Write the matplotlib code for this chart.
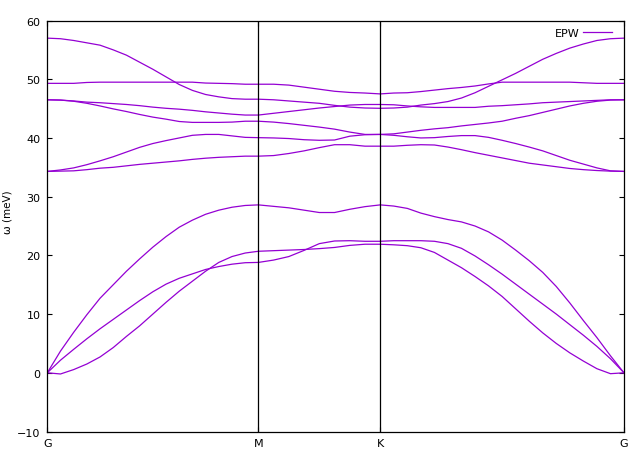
import matplotlib
matplotlib.use("Agg")
import matplotlib.pyplot as plt

# path coordinate along G-M-K-G (hexagonal BZ, G-M = 1/sqrt3, M-K = 1/3, K-G = 2/3)
q = [0.0000, 0.0361, 0.0722, 0.1083, 0.1443, 0.1804, 0.2165, 0.2526, 0.2887,
     0.3248, 0.3609, 0.3969, 0.4330, 0.4691, 0.5052, 0.5413, 0.5774,
     0.6190, 0.6607, 0.7024, 0.7440, 0.7857, 0.8274, 0.8690, 0.9107,
     0.9477, 0.9848, 1.0218, 1.0589, 1.0959, 1.1329, 1.1700, 1.2070, 1.2441,
     1.2811, 1.3181, 1.3552, 1.3922, 1.4292, 1.4663, 1.5033, 1.5404, 1.5774]

sym_pos = [0.0, 0.5774, 0.9107, 1.5774]
sym_lab = ["G", "M", "K", "G"]

# phonon branches (meV)
ta1 = [0, -0.2, 0.55, 1.5, 2.7, 4.3, 6.2, 8.0, 10.0, 12.0, 13.9, 15.6, 17.3, 18.8, 19.8, 20.4, 20.7,
       20.8, 20.9, 21.0, 21.15, 21.35, 21.7, 21.9, 21.9,
       21.8, 21.65, 21.3, 20.5, 19.2, 17.9, 16.4, 14.8, 13.0, 10.9, 8.8, 6.8, 5.0, 3.4, 2.0, 0.7, -0.15, 0]
ta2 = [0, 2.15, 4.0, 5.8, 7.5, 9.1, 10.7, 12.3, 13.8, 15.1, 16.1, 16.85, 17.6, 18.1, 18.5, 18.75, 18.8,
       19.2, 19.8, 20.85, 22.0, 22.45, 22.5, 22.4, 22.4,
       22.5, 22.5, 22.5, 22.4, 22.0, 21.2, 19.9, 18.4, 16.8, 15.1, 13.4, 11.7, 10.0, 8.2, 6.4, 4.5, 2.4, 0]
la = [0, 3.7, 6.9, 9.9, 12.7, 15.0, 17.3, 19.4, 21.4, 23.2, 24.8, 26.0, 27.0, 27.7, 28.2, 28.5, 28.6,
      28.35, 28.1, 27.7, 27.3, 27.3, 27.85, 28.3, 28.6,
      28.4, 28.0, 27.2, 26.6, 26.1, 25.7, 25.0, 24.0, 22.6, 20.9, 19.1, 17.1, 14.7, 11.9, 8.9, 6.0, 2.9, 0]
op1 = [57.0, 56.9, 56.6, 56.2, 55.8, 55.0, 54.1, 52.9, 51.7, 50.4, 49.1, 48.1, 47.4, 47.0, 46.7, 46.6, 46.6,
       46.5, 46.3, 46.1, 45.9, 45.55, 45.25, 45.1, 45.05,
       45.1, 45.25, 45.6, 45.85, 46.2, 46.8, 47.7, 48.8, 49.9, 51.0, 52.2, 53.4, 54.4, 55.3, 56.0, 56.6, 56.9, 57.0]
op2 = [49.3, 49.3, 49.3, 49.45, 49.5, 49.5, 49.5, 49.5, 49.5, 49.5, 49.5, 49.5, 49.35, 49.3, 49.25, 49.15, 49.15,
       49.15, 49.0, 48.65, 48.3, 47.95, 47.75, 47.65, 47.5,
       47.65, 47.7, 47.9, 48.15, 48.4, 48.6, 48.85, 49.2, 49.5, 49.5, 49.5, 49.5, 49.5, 49.5, 49.4, 49.3, 49.3, 49.3]
op3 = [46.5, 46.45, 46.3, 46.1, 46.0, 45.85, 45.7, 45.5, 45.25, 45.05, 44.9, 44.7, 44.45, 44.25, 44.05, 43.9, 43.9,
       44.2, 44.5, 44.8, 45.1, 45.35, 45.6, 45.7, 45.7,
       45.65, 45.45, 45.3, 45.2, 45.2, 45.2, 45.2, 45.4, 45.5, 45.65, 45.8, 46.0, 46.1, 46.2, 46.3, 46.4, 46.5, 46.5]
op4 = [46.5, 46.45, 46.25, 45.9, 45.45, 44.95, 44.5, 44.0, 43.55, 43.2, 42.8, 42.65, 42.65, 42.65, 42.7, 42.85, 42.85,
       42.7, 42.45, 42.15, 41.85, 41.5, 41.0, 40.6, 40.6,
       40.7, 41.0, 41.3, 41.55, 41.75, 42.05, 42.3, 42.55, 42.85, 43.35, 43.8, 44.35, 44.9, 45.45, 45.9, 46.25, 46.45, 46.5]
op5 = [34.3, 34.55, 34.9, 35.45, 36.1, 36.8, 37.6, 38.4, 39.05, 39.55, 40.0, 40.45, 40.6, 40.6, 40.35, 40.1, 40.05,
       40.0, 39.9, 39.7, 39.6, 39.65, 40.3, 40.55, 40.6,
       40.45, 40.2, 40.0, 40.05, 40.25, 40.4, 40.4, 40.1, 39.6, 39.05, 38.45, 37.8, 37.0, 36.2, 35.55, 34.9, 34.4, 34.3]
op6 = [34.3, 34.35, 34.4, 34.6, 34.85, 35.0, 35.25, 35.5, 35.7, 35.9, 36.1, 36.35, 36.55, 36.7, 36.8, 36.9, 36.9,
       37.0, 37.35, 37.8, 38.35, 38.85, 38.85, 38.6, 38.6,
       38.6, 38.75, 38.85, 38.8, 38.45, 38.0, 37.5, 37.05, 36.6, 36.15, 35.7, 35.4, 35.1, 34.8, 34.6, 34.45, 34.35, 34.3]

branches = [ta1, ta2, la, op1, op2, op3, op4, op5, op6]

LINE = "#9400D3"

fig = plt.figure(figsize=(6.34, 4.56), dpi=100)
ax = fig.add_axes([0.0746, 0.0515, 0.9096, 0.9013])

for i, w in enumerate(branches):
    ax.plot(q, w, color=LINE, lw=0.9, label="EPW" if i == 0 else None)

for x in sym_pos[1:-1]:
    ax.axvline(x, color="black", lw=0.9)

ax.set_xlim(sym_pos[0], sym_pos[-1])
ax.set_ylim(-10, 60)
ax.set_xticks(sym_pos)
ax.set_xticklabels(sym_lab)
ax.set_yticks(range(-10, 61, 10))
ax.tick_params(direction="in", length=3.5, width=0.8, labelsize=8,
               top=True, right=True, pad=5)
for s in ax.spines.values():
    s.set_linewidth(0.9)

ax.set_ylabel("\u03c9 (meV)", fontsize=7.5)
ax.yaxis.set_label_coords(-0.061, 0.536)

ax.legend(loc="upper right", bbox_to_anchor=(0.979, 0.982), frameon=False,
          markerfirst=False, fontsize=8, handlelength=2.6, handletextpad=0.3,
          borderpad=0, borderaxespad=0)

fig.savefig("out.png", dpi=100)
